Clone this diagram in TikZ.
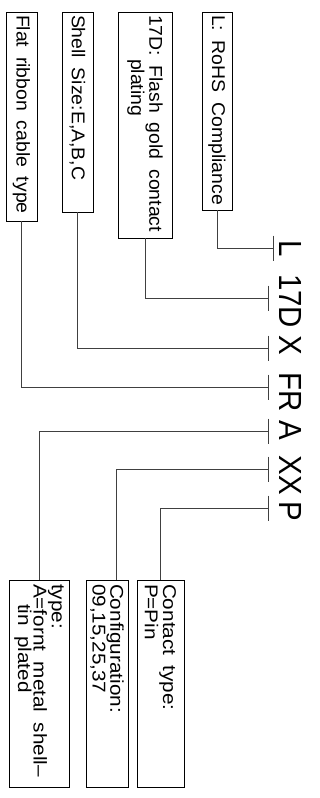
\documentclass[tikz,border=0pt]{standalone}
\usepackage{fontspec}
\setmainfont{Liberation Sans}
\newfontfamily\cadfont{Liberation Sans}[FakeStretch=1.05,WordSpace=1.8]
\newfontfamily\cadwide{Liberation Sans}[FakeStretch=1.12,WordSpace=1.8]
\newfontfamily\codefont{Liberation Sans}[FakeStretch=0.92]
\newcommand{\boxtxt}{\cadfont\fontsize{18.5}{16.5}\selectfont}
\newcommand{\lowtxt}{\cadwide\fontsize{18.5}{15.5}\selectfont}
\newcommand{\codetxt}{\codefont\fontsize{32}{32}\selectfont}

\begin{document}
\begin{tikzpicture}[x=1pt,y=-1pt,
  box/.style={draw,line width=0.9pt,rotate=-90,font=\boxtxt,align=flush left,inner xsep=3pt,inner ysep=0pt},
  lowbox/.style={box,font=\lowtxt,inner xsep=4pt,text width=199pt},
  code/.style={rotate=-90,anchor=base,font=\codetxt,inner sep=0pt},
  lead/.style={line width=0.9pt,black!75}]
\useasboundingbox (0,0) rectangle (320,798);
% upper boxes
\node[box,text width=203pt,minimum height=31pt] (flat) at (21.5,116.5) {Flat ribbon cable type};
\node[box,text width=194pt,minimum height=31pt] (shell) at (77.5,112) {Shell Size:E,A,B,C};
\node[box,text width=220pt,minimum height=54pt] (plating) at (145,125) {17D: Flash gold contact\\\hspace*{44pt}plating};
\node[box,text width=192pt,minimum height=30pt] (rohs) at (217,111) {L: RoHS Compliance};
% lower boxes
\node[lowbox,minimum height=60pt] (type) at (39,683.5) {type:\\A=fornt metal shell–\\\hspace*{20pt}tin plated};
\node[lowbox,minimum height=42pt] (config) at (107,683.5) {Configuration:\\09,15,25,37};
\node[lowbox,minimum height=47pt] (contact) at (160.5,683.5) {Contact type:\\P=Pin};
% part number
\node[code] (cL) at (279,248.5) {L};
\node[code] (c17D) at (279,301) {17D};
\node[code] (cX) at (279,345) {X};
\node[code] (cFR) at (279,392.5) {FR};
\node[code] (cA) at (279,430) {A};
\node[code] (cXX) at (279,475) {XX};
\node[code] (cP) at (279,511.5) {P};
\coordinate (tL) at (273,248);
\coordinate (t17D) at (268,298);
\coordinate (tX) at (268,348);
\coordinate (tFR) at (268,387);
\coordinate (tA) at (268,431);
\coordinate (tXX) at (268,469);
\coordinate (tP) at (268,508);
\coordinate (cfgin) at (116,580);
\foreach \t in {tL,t17D,tX,tFR,tA,tXX,tP}
  \draw[lead] ([yshift=12.5pt]\t) -- ([yshift=-12.5pt]\t);
\draw[lead] (rohs.east) |- (tL);
\draw[lead] (plating.east) |- (t17D);
\draw[lead] (shell.east) |- (tX);
\draw[lead] (flat.east) |- (tFR);
\draw[lead] (tA) -| (type.west);
\draw[lead] (tXX) -| (cfgin);
\draw[lead] (tP) -| (contact.west);
\end{tikzpicture}
\end{document}
